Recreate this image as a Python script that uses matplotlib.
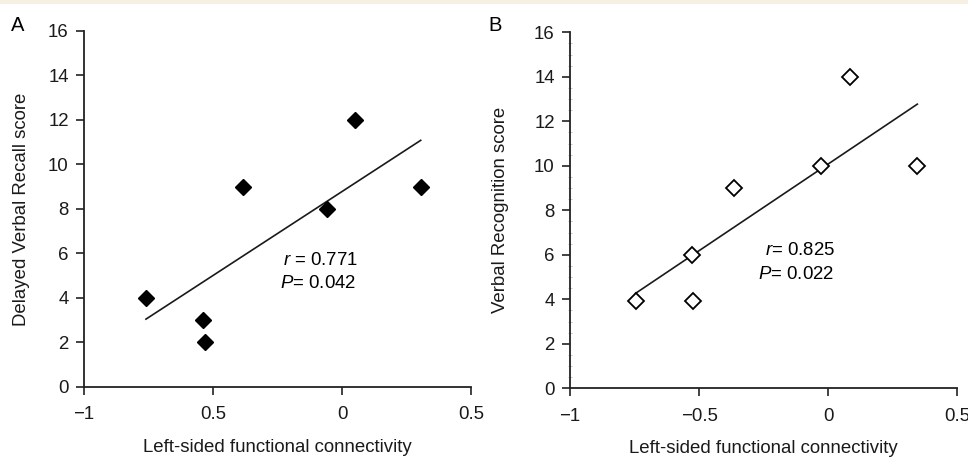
import numpy as np
import matplotlib
matplotlib.use('Agg')
import matplotlib.pyplot as plt
from matplotlib.patches import Rectangle

plt.rcParams['font.family'] = ['Liberation Sans', 'DejaVu Sans']
plt.rcParams['mathtext.fontset'] = 'custom'
plt.rcParams['mathtext.it'] = 'Liberation Sans:italic'
plt.rcParams['mathtext.rm'] = 'Liberation Sans'

# Panel A data (delayed verbal recall)
conn_a = [-0.76, -0.54, -0.53, -0.385, -0.06, 0.05, 0.305]
recall = [4, 3, 2, 9, 8, 12, 9]

# Panel B data (verbal recognition)
conn_b = [-0.746, -0.522, -0.526, -0.365, -0.029, 0.083, 0.345]
recog = [3.93, 3.93, 6, 9, 10, 14, 10]

xtick_vals = [-1, -0.5, 0, 0.5]
xtick_a = ['\u22121', '0.5', '0', '0.5']
xtick_b = ['\u22121', '\u22120.5', '0', '0.5']
ytick_vals = [0, 2, 4, 6, 8, 10, 12, 14, 16]

fs = 13.4

fig = plt.figure(figsize=(9.68, 4.59), dpi=100)
fig.patches.append(Rectangle((0, 1 - 4 / 459), 1, 4 / 459, transform=fig.transFigure,
                             facecolor='#f5f0e1', edgecolor='none', zorder=0))

ax1 = fig.add_axes([0.0868, 0.1569, 0.3998, 0.7756])
ax2 = fig.add_axes([0.5888, 0.1540, 0.4002, 0.7756])

def style(ax, xlabels, ylabel, ypad):
    ax.set_xlim(-1, 0.5)
    ax.set_ylim(0, 16)
    ax.set_xticks(xtick_vals)
    ax.set_xticklabels(xlabels)
    ax.set_yticks(ytick_vals)
    for s in ['top', 'right']:
        ax.spines[s].set_visible(False)
    for s in ['left', 'bottom']:
        ax.spines[s].set_linewidth(1.3)
        ax.spines[s].set_color('#222222')
    ax.tick_params(axis='both', direction='out', length=6, width=1.2,
                   color='#222222', labelsize=fs, labelcolor='#1a1a1a')
    ax.tick_params(axis='x', pad=8)
    ax.tick_params(axis='y', pad=5)
    ax.set_xlabel('Left-sided functional connectivity', fontsize=fs, color='#1a1a1a', labelpad=11)
    ax.set_ylabel(ylabel, fontsize=fs, color='#1a1a1a', labelpad=ypad)

# Panel A
ax1.plot(conn_a, recall, 'D', color='black', markersize=8, zorder=3, clip_on=False)
k, b = np.polyfit(conn_a, recall, 1)
xl = np.array([min(conn_a), max(conn_a)])
ax1.plot(xl, k * xl + b, color='#1a1a1a', lw=1.2)
ax1.text(-0.229, 5.7, r'$r$ = 0.771', fontsize=fs, ha='left', va='center')
ax1.text(-0.24, 4.65, r'$P$= 0.042', fontsize=fs, ha='left', va='center')
style(ax1, xtick_a, 'Delayed Verbal Recall score', 13)

# Panel B
ax2.plot(conn_b, recog, 'D', markerfacecolor='white', markeredgecolor='black',
         markeredgewidth=1.3, markersize=8, zorder=3, clip_on=False)
k, b = np.polyfit(conn_b, recog, 1)
xl = np.array([min(conn_b), max(conn_b)])
ax2.plot(xl, k * xl + b, color='#1a1a1a', lw=1.2)
ax2.text(-0.245, 6.2, r'$r$= 0.825', fontsize=fs, ha='left', va='center')
ax2.text(-0.27, 5.1, r'$P$= 0.022', fontsize=fs, ha='left', va='center')
style(ax2, xtick_b, 'Verbal Recognition score', 18)
ax2.set_yticks(np.arange(0, 16.1, 0.5), minor=True)
ax2.tick_params(axis='y', which='minor', direction='inout', length=3, width=0.6, color='#bbbbbb')

fig.text(0.011, 0.945, 'A', fontsize=14.5, va='center', ha='left')
fig.text(0.505, 0.945, 'B', fontsize=14.5, va='center', ha='left')

fig.savefig('out.png', dpi=100, facecolor='white')
